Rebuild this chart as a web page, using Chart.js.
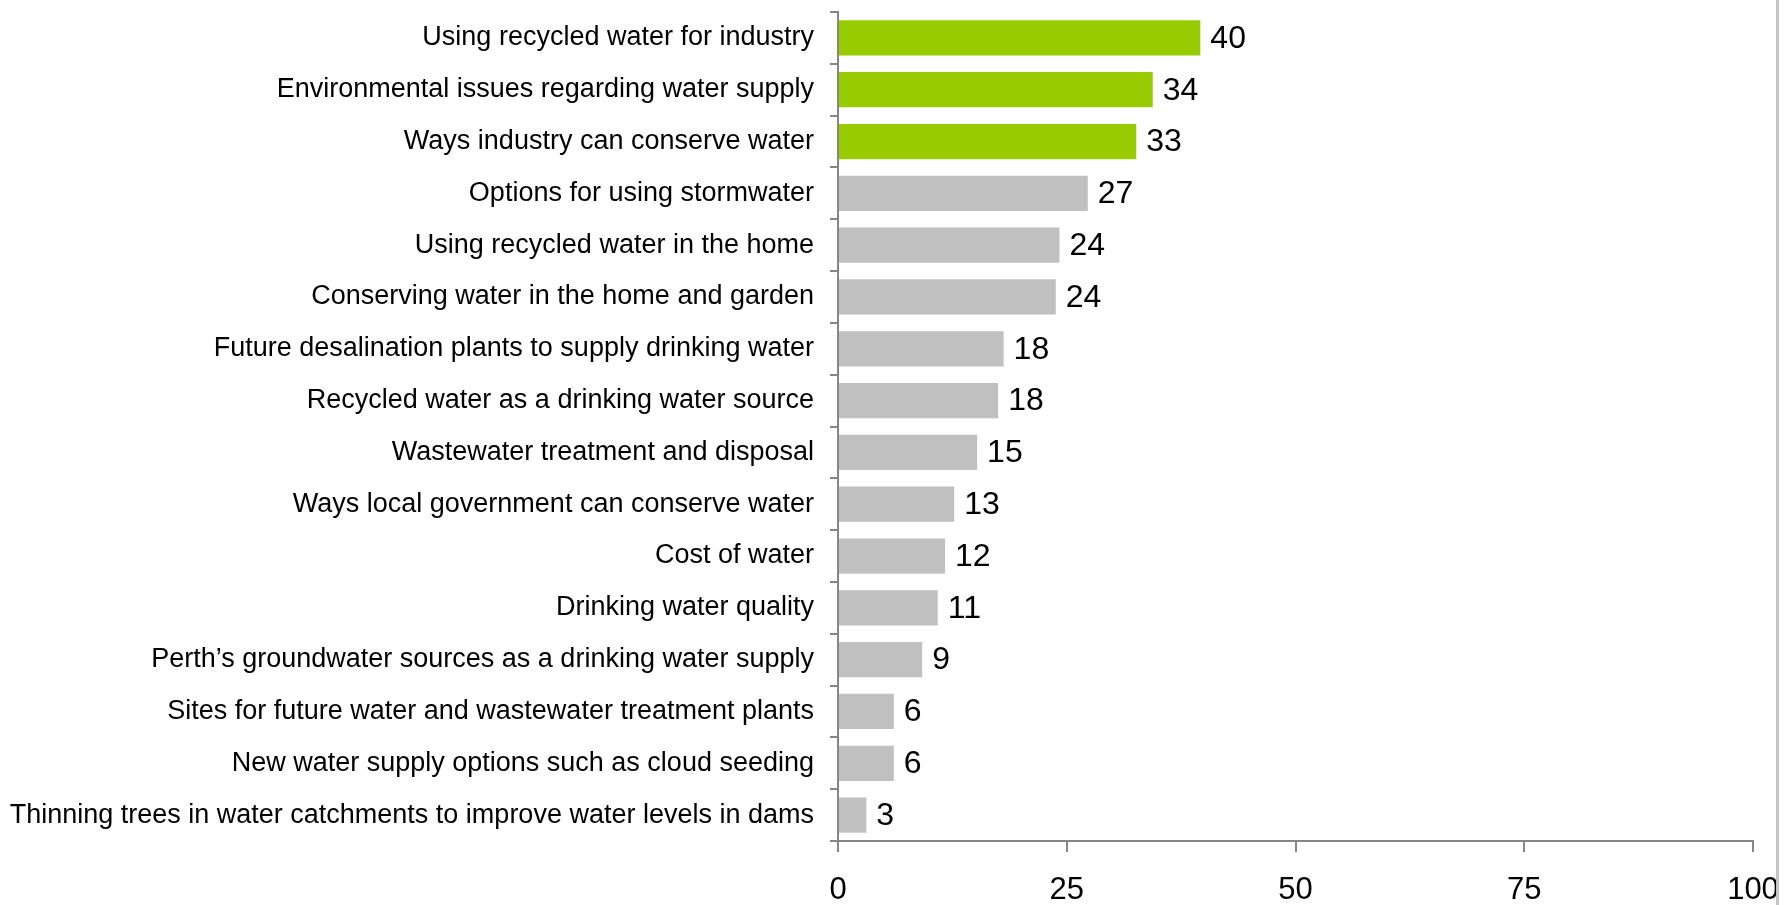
<!DOCTYPE html>
<html>
<head>
<meta charset="utf-8">
<script src="https://cdn.jsdelivr.net/npm/chart.js@4/dist/chart.umd.min.js"></script>
<style>
  html, body { margin: 0; padding: 0; background: #ffffff; }
  #wrap { position: relative; width: 1785px; height: 905px; overflow: hidden; }
  #frame { position: absolute; left: 1776px; top: 0; width: 3px; height: 905px; background: #c4c4c4; }
</style>
</head>
<body>
<div id="wrap">
  <canvas id="c" width="1785" height="905"></canvas>
  <div id="frame"></div>
</div>
<script>
const categories = [
  "Using recycled water for industry",
  "Environmental issues regarding water supply",
  "Ways industry can conserve water",
  "Options for using stormwater",
  "Using recycled water in the home",
  "Conserving water in the home and garden",
  "Future desalination plants to supply drinking water",
  "Recycled water as a drinking water source",
  "Wastewater treatment and disposal",
  "Ways local government can conserve water",
  "Cost of water",
  "Drinking water quality",
  "Perth\u2019s groundwater sources as a drinking water supply",
  "Sites for future water and wastewater treatment plants",
  "New water supply options such as cloud seeding",
  "Thinning trees in water catchments to improve water levels in dams"
];
const values = [39.6, 34.4, 32.6, 27.3, 24.2, 23.8, 18.1, 17.5, 15.2, 12.7, 11.7, 10.9, 9.2, 6.1, 6.1, 3.1];
const valueLabels = ["40", "34", "33", "27", "24", "24", "18", "18", "15", "13", "12", "11", "9", "6", "6", "3"];
const xTicks = [0, 25, 50, 75, 100];
const highlightedCount = 3;

const GREEN = '#99cc00';
const GREY = '#c0c0c0';
const AXIS = '#868686';
const FONT = "'Liberation Sans', Arial, sans-serif";

function zeroPadding(s) {
  s.paddingTop = 0; s.paddingBottom = 0; s.paddingLeft = 0; s.paddingRight = 0;
}

const valueLabelPlugin = {
  id: 'valueLabels',
  afterDatasetsDraw(chart) {
    const ctx = chart.ctx;
    const meta = chart.getDatasetMeta(0);
    ctx.save();
    ctx.font = "32px " + FONT;
    ctx.fillStyle = '#000000';
    ctx.textAlign = 'left';
    ctx.textBaseline = 'middle';
    meta.data.forEach((bar, i) => {
      ctx.fillText(valueLabels[i], bar.x + 10, bar.y + 1);
    });
    ctx.restore();
  }
};

new Chart(document.getElementById('c'), {
  type: 'bar',
  data: {
    labels: categories,
    datasets: [{
      data: values,
      backgroundColor: values.map((v, i) => i < highlightedCount ? GREEN : GREY),
      borderWidth: 0,
      barPercentage: 0.68,
      categoryPercentage: 1.0
    }]
  },
  options: {
    indexAxis: 'y',
    responsive: false,
    animation: false,
    devicePixelRatio: 1,
    layout: { padding: { top: 12, right: 32, left: 0, bottom: 0 } },
    plugins: {
      legend: { display: false },
      tooltip: { enabled: false }
    },
    scales: {
      y: {
        afterFit(s) { s.width = 838; zeroPadding(s); },
        ticks: {
          color: '#000000',
          font: { family: FONT, size: 27 },
          padding: 16,
          autoSkip: false
        },
        grid: {
          offset: true,
          drawOnChartArea: false,
          tickLength: 8,
          color: AXIS,
          lineWidth: 2
        },
        border: { color: AXIS, width: 2 }
      },
      x: {
        min: 0,
        max: 100,
        afterFit(s) { s.height = 64; zeroPadding(s); },
        afterBuildTicks(s) { s.ticks = xTicks.map(v => ({ value: v })); },
        ticks: {
          color: '#000000',
          font: { family: FONT, size: 31 },
          padding: 20,
          maxRotation: 0
        },
        grid: {
          drawOnChartArea: false,
          tickLength: 11,
          color: AXIS,
          lineWidth: 2
        },
        border: { color: AXIS, width: 2 }
      }
    }
  },
  plugins: [valueLabelPlugin]
});
</script>
</body>
</html>
